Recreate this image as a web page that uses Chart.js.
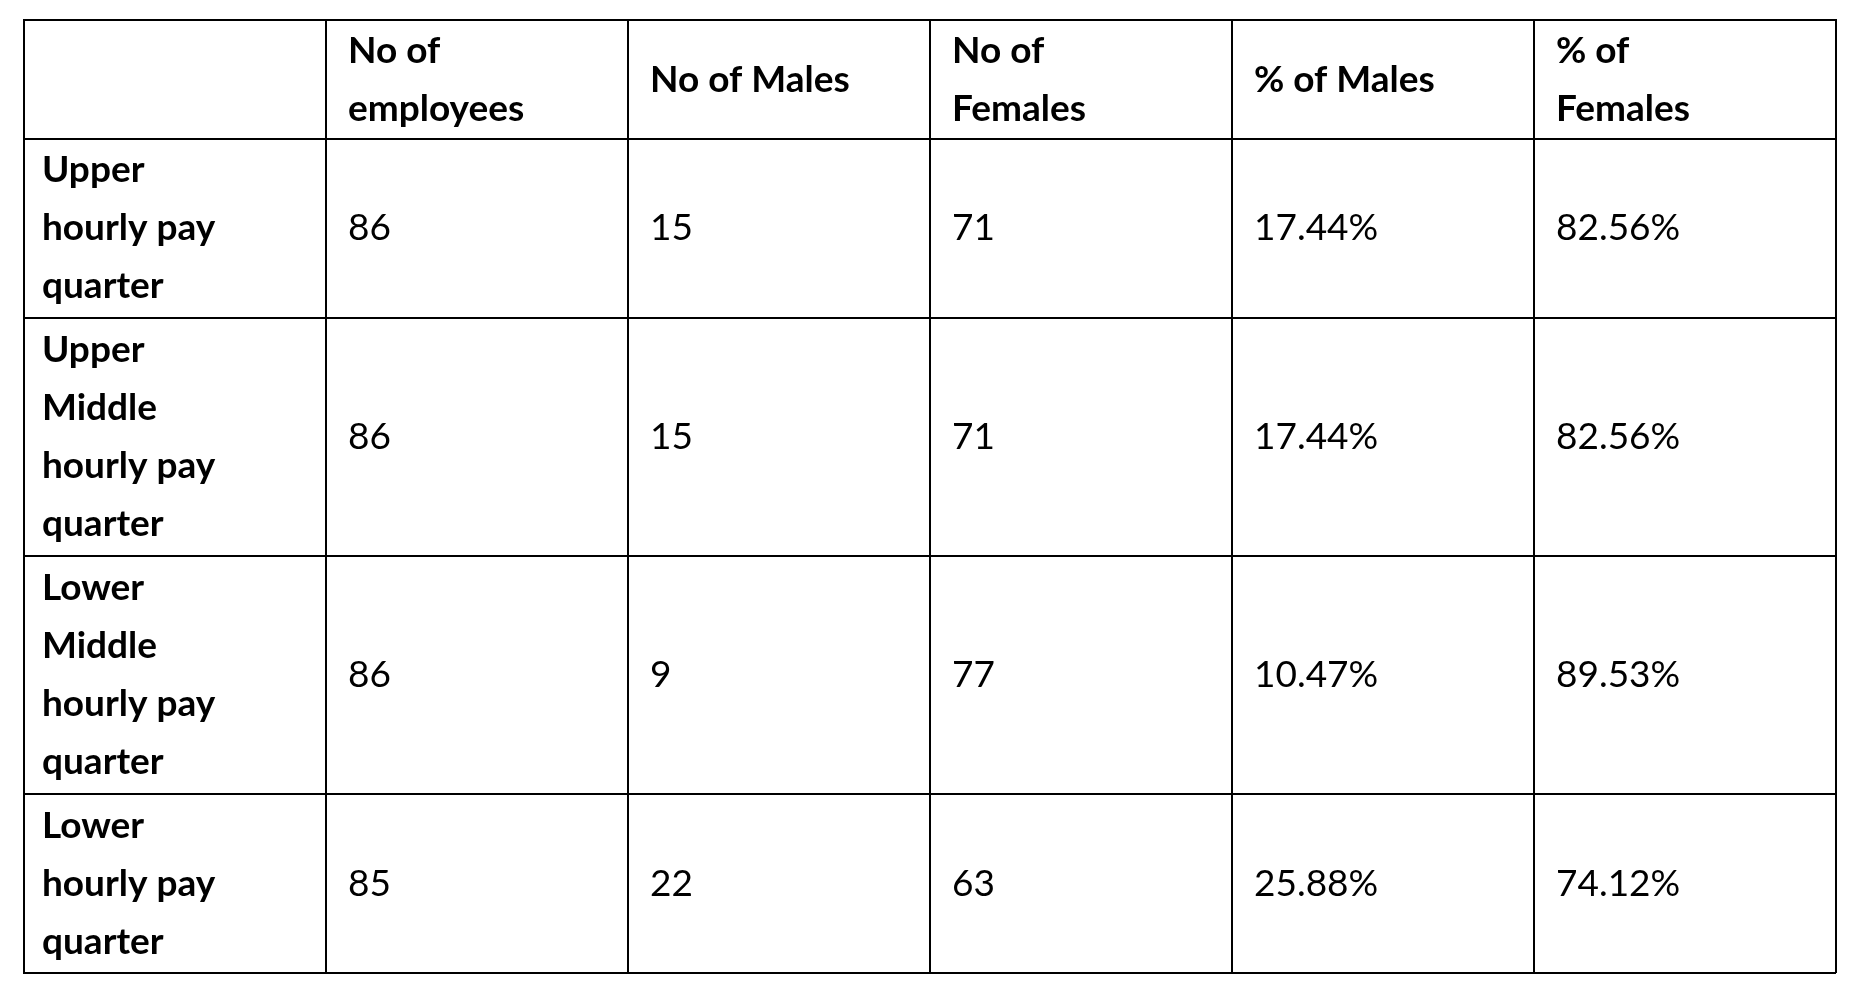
<!DOCTYPE html>
<html><head><meta charset="utf-8">
<script src="https://cdn.jsdelivr.net/npm/chart.js@4"></script>
<style>html,body{margin:0;padding:0;background:#fff}#w{width:1862px;height:1006px}</style>
</head><body><div id="w"><canvas id="c"></canvas></div>
<script>
const columns = [["No of","employees"],["No of Males"],["No of","Females"],["% of Males"],["% of","Females"]];
const rowLabels = [["Upper","hourly pay","quarter"],["Upper","Middle","hourly pay","quarter"],["Lower","Middle","hourly pay","quarter"],["Lower","hourly pay","quarter"]];
const employees = [86,86,86,85];
const males = [15,15,9,22];
const females = [71,71,77,63];
const pctMales = ["17.44%","17.44%","10.47%","25.88%"];
const pctFemales = ["82.56%","82.56%","89.53%","74.12%"];
const rowEdges = [0,2,5,9,13,16];

const FONT = 'Lato, "Open Sans", sans-serif';
const LH = 58;
function drawLines(ctx, lines, x, cy, bold){
  ctx.font = (bold?'bold ':'') + '37px ' + FONT;
  const start = cy - (lines.length-1)*LH/2;
  lines.forEach((t,i)=>ctx.fillText(t, x, start + i*LH));
}
const tablePlugin = {
  id:'tbl',
  afterDraw(chart){
    const {ctx, scales:{x,y}} = chart;
    ctx.save(); ctx.fillStyle='#000'; ctx.textBaseline='middle'; ctx.textAlign='left';
    const pad = 22;
    const cyOf = r => (y.getPixelForValue(rowEdges[r]) + y.getPixelForValue(rowEdges[r+1]))/2;
    columns.forEach((c,i)=>drawLines(ctx, c, x.getPixelForValue(i+1)+pad, cyOf(0), true));
    const cols = [employees, males, females, pctMales, pctFemales];
    rowLabels.forEach((lab,r)=>{
      const cy = cyOf(r+1);
      drawLines(ctx, lab, x.getPixelForValue(0)+pad-4, cy, true);
      cols.forEach((arr,ci)=>drawLines(ctx, [String(arr[r])], x.getPixelForValue(ci+1)+pad, cy, false));
    });
    ctx.restore();
  }
};
new Chart(document.getElementById('c'), {
  type:'scatter',
  data:{datasets:[{data:[], pointRadius:0}]},
  options:{
    responsive:true, maintainAspectRatio:false, animation:false,
    layout:{padding:{left:24,right:26,top:20,bottom:33}},
    plugins:{legend:{display:false},tooltip:{enabled:false}},
    scales:{
      x:{type:'linear',min:0,max:6,position:'top',
        ticks:{display:false,stepSize:1},
        grid:{color:'#000',lineWidth:2,drawTicks:false},
        border:{display:true,color:'#000',width:2}},
      y:{type:'linear',min:0,max:16,reverse:true,
        afterBuildTicks(s){s.ticks = rowEdges.map(v=>({value:v}));},
        ticks:{display:false},
        grid:{color:'#000',lineWidth:2,drawTicks:false},
        border:{display:true,color:'#000',width:2}}
    }
  },
  plugins:[tablePlugin]
});
</script></body></html>
